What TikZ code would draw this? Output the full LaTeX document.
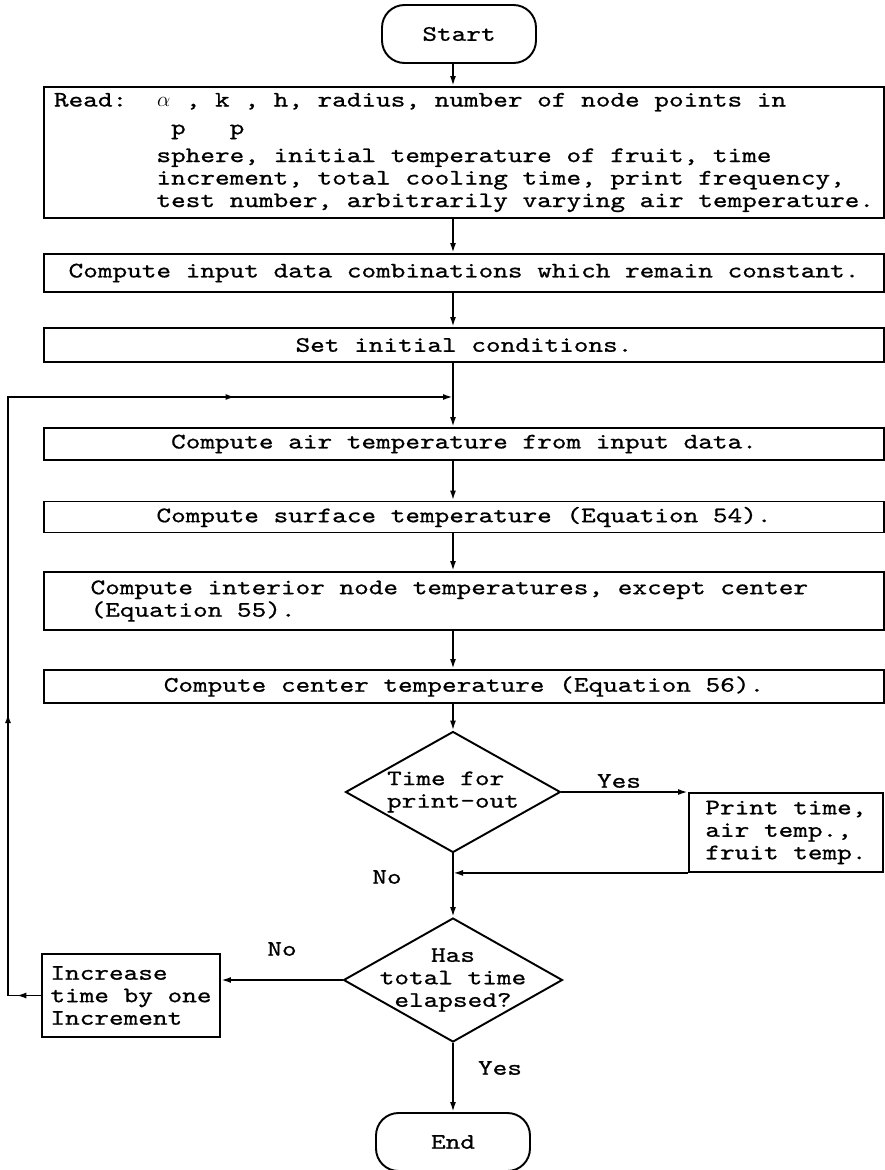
\documentclass[tikz,border=0pt]{standalone}
\usepackage{fontspec}
\setmonofont[FakeStretch=1.26, FakeBold=0.8]{lmmono10-regular.otf}
\usetikzlibrary{shapes.geometric, arrows.meta, decorations.markings}
\newcommand{\alp}{\makebox[\fontcharwd\font`x]{$\alpha$}}

\begin{document}
\begin{tikzpicture}[x=0.02cm, y=-0.02cm, line width=1.1pt,
		>={Latex[length=2mm,width=1.2mm]},
		every node/.style={font=\ttfamily\fontsize{12.6}{12.8}\selectfont},
		term/.style={draw, rounded corners=0.45cm, minimum width=3.08cm, minimum height=1.16cm},
		wide/.style={draw, rectangle, minimum width=16.8cm, inner sep=0pt},
		box/.style={draw, rectangle, align=left, inner sep=0pt},
		decision/.style={draw, diamond, inner sep=0pt},
		backarrows/.style={decoration={markings,
				mark=at position 0.023 with {\arrow{Latex[length=2mm,width=1.2mm]}},
				mark=at position 0.293 with {\arrow{Latex[length=2mm,width=1.2mm]}},
				mark=at position 0.798 with {\arrow{Latex[length=2mm,width=1.2mm]}}},
			postaction={decorate}}]
	\useasboundingbox (0,0) rectangle (885,1170);
	
	%main column
	\coordinate (col) at (453,0);
	\node[term] (start) at (459,34) {Start};
	\node[wide, minimum height=2.62cm, align=left] (read) at (464,152.5)
		{Read:\ \ \alp\ ,\ k\ ,\ h, radius, number of node points in\\[3pt]
		 \phantom{Read:\ \ x}p\phantom{xxx}p\\[3pt]
		 \phantom{Read:\ \ }sphere, initial temperature of fruit, time\\
		 \phantom{Read:\ \ }increment, total cooling time, print frequency,\\
		 \phantom{Read:\ \ }test number, arbitrarily varying air temperature.};
	\node[wide, minimum height=0.76cm] (input) at (464,273) {Compute input data combinations which remain constant.};
	\node[wide, minimum height=0.68cm] (init) at (464,345) {Set initial conditions.};
	\node[wide, minimum height=0.64cm] (air) at (464,444) {Compute air temperature from input data.};
	\node[wide, minimum height=0.62cm] (surf) at (464,517) {Compute surface temperature (Equation 54).};
	\node[wide, minimum height=1.16cm, align=left] (inter) at (464,601)
		{Compute interior node temperatures, except center\phantom{xx}\\(Equation 55).};
	\node[wide, minimum height=0.66cm] (cent) at (464,686.5) {Compute center temperature (Equation 56).};
	
	%decisions
	\node[decision, aspect=1.78, minimum width=4.3cm, minimum height=2.42cm, align=left] (print?) at (453,792)
		{Time for\\print-out};
	\node[box, anchor=north west, minimum width=3.88cm, minimum height=1.58cm] (print) at (688,792)
		{Print time,\\air temp.,\\fruit temp.};
	\node[decision, aspect=1.77, inner ysep=-0.23cm, minimum width=4.38cm, minimum height=2.48cm, align=center] (done?) at (453,980)
		{Has\\total time\\elapsed?};
	\node[box, minimum width=3.56cm, minimum height=1.66cm] (incr) at (131,995.5)
		{Increase\\time by one\\Increment};
	\node[term] (end) at (453,1142) {End};
	
	%labels
	\node (yes1) at (619,781) {Yes};
	\node (no1) at (387,877) {No};
	\node (no2) at (282,949) {No};
	\node (yes2) at (500,1068) {Yes};
	
	%connectors
	\draw[->] (col |- start.south) -- (col |- read.north);
	\draw[->] (col |- read.south) -- (col |- input.north);
	\draw[->] (col |- input.south) -- (col |- init.north);
	\coordinate (join) at (453,397);
	\draw (col |- init.south) -- (join);
	\draw[->] (join) -- (col |- air.north);
	\draw[->] (col |- air.south) -- (col |- surf.north);
	\draw[->] (col |- surf.south) -- (col |- inter.north);
	\draw[->] (col |- inter.south) -- (col |- cent.north);
	\draw[->] (col |- cent.south) -- (print?.north);
	\draw[->] (print?.east) -- (print.north west);
	\draw[->] (print.south west) -- (print?.south |- print.south west);
	\draw[->] (print?.south) -- (done?.north);
	\draw[->] (done?.west) -- (done?.west -| incr.east);
	\draw[->] (done?.south) -- (end.north);
	
	%loop back
	\coordinate (lbot) at (8,995.5);
	\coordinate (ltop) at (8,397);
	\draw[->, backarrows] (incr.west) -- (lbot) -- (ltop) -- (join);
\end{tikzpicture}
\end{document}
